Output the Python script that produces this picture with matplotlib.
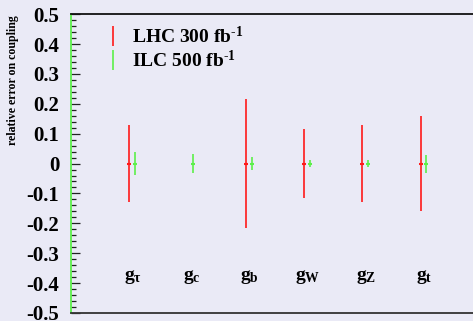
import numpy as np
import matplotlib
matplotlib.use('Agg')
import matplotlib.pyplot as plt
from matplotlib.lines import Line2D

plt.rcParams['font.family'] = ['Liberation Serif', 'DejaVu Serif']
plt.rcParams['font.weight'] = 'bold'
plt.rcParams['mathtext.fontset'] = 'custom'
plt.rcParams['mathtext.rm'] = 'Liberation Serif:bold'
plt.rcParams['mathtext.it'] = 'Liberation Serif:bold'
plt.rcParams['mathtext.bf'] = 'Liberation Serif:bold'

# couplings and relative errors (symmetric), NaN = no measurement
couplings = [r'$\mathbf{g}_{\tau}$', r'$\mathbf{g}_{c}$', r'$\mathbf{g}_{b}$',
             r'$\mathbf{g}_{W}$', r'$\mathbf{g}_{Z}$', r'$\mathbf{g}_{t}$']
lhc_err = [0.13, np.nan, 0.215, 0.115, 0.13, 0.16]
ilc_err = [0.037, 0.033, 0.022, 0.012, 0.012, 0.03]

BG = '#eaeaf6'
RED = '#ff1a1a'
GREEN = '#5cf04a'


def main():
    fig = plt.figure(figsize=(4.73, 3.21), dpi=100, facecolor=BG)
    ax = fig.add_axes([0.150, 0.025, 0.85, 0.931], facecolor=BG)

    x = np.arange(1, len(couplings) + 1)
    shift = 0.1
    lhc = np.array(lhc_err)
    ilc = np.array(ilc_err)
    ok = ~np.isnan(lhc)
    ax.errorbar(x[ok], np.zeros(ok.sum()), yerr=lhc[ok], fmt='none', ecolor=RED, elinewidth=1.2, capsize=0)
    ax.plot(x[ok], np.zeros(ok.sum()), ls='none', marker='_', ms=3, mew=1.5, color=RED)
    ax.errorbar(x + shift, np.zeros(len(x)), yerr=ilc, fmt='none', ecolor=GREEN, elinewidth=1.2, capsize=0)
    ax.plot(x + shift, np.zeros(len(x)), ls='none', marker='_', ms=3, mew=1.5, color=GREEN)

    for xi, lab in zip(x, couplings):
        ax.text(xi + 0.07, -0.39, lab, ha='center', va='baseline', fontsize=14)

    ax.set_xlim(0, 6.9)
    ax.set_ylim(-0.5, 0.5)
    ax.set_xticks([])
    ax.set_yticks(np.arange(-0.5, 0.51, 0.1))
    ax.set_yticklabels(['-0.5', '-0.4', '-0.3', '-0.2', '-0.1', '0', '0.1', '0.2', '0.3', '0.4', '0.5'])
    ax.set_yticks(np.arange(-0.5, 0.51, 0.02), minor=True)
    ax.tick_params(axis='y', which='major', direction='in', length=6.5, width=0.9, pad=8.5,
                   labelsize=15, color='#222222')
    ax.tick_params(axis='y', which='minor', direction='in', length=3.6, width=0.9, color='#222222')
    ax.spines['right'].set_visible(False)
    ax.spines['left'].set_color(GREEN)
    ax.spines['left'].set_linewidth(1.3)
    ax.spines['top'].set_color('#111111')
    ax.spines['bottom'].set_color('#333333')
    ax.spines['top'].set_linewidth(1.3)
    ax.spines['bottom'].set_linewidth(1.3)

    ax.set_ylabel('relative error on coupling', fontsize=8.6, fontweight='bold')
    ax.yaxis.set_label_coords(-0.128, 0.78)

    handles = [Line2D([], [], color=RED, marker='|', ls='none', ms=15, mew=1.2),
               Line2D([], [], color=GREEN, marker='|', ls='none', ms=15, mew=1.2)]
    labels = [r'LHC 300 fb$^{\text{-1}}$', r'ILC 500 fb$^{\text{-1}}$']
    ax.legend(handles, labels, loc='upper left', bbox_to_anchor=(0.06, 1.0), frameon=False,
              fontsize=14, handlelength=0.6, handletextpad=0.7, labelspacing=0.15,
              borderaxespad=0.2)

    plt.savefig('out.png', dpi=100, facecolor=BG)


if __name__ == '__main__':
    main()
